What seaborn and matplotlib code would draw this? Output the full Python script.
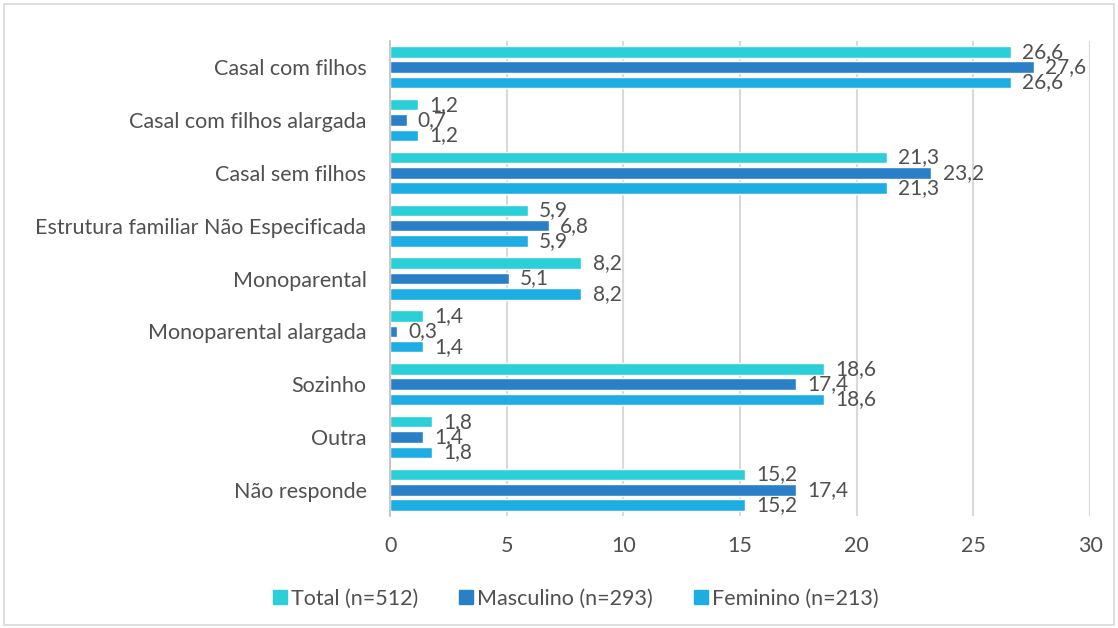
import numpy as np
import pandas as pd
import seaborn as sns
import matplotlib.pyplot as plt
from matplotlib.patches import Rectangle

categorias = ["Casal com filhos", "Casal com filhos alargada", "Casal sem filhos",
              "Estrutura familiar Não Especificada", "Monoparental",
              "Monoparental alargada", "Sozinho", "Outra", "Não responde"]
total = [26.6, 1.2, 21.3, 5.9, 8.2, 1.4, 18.6, 1.8, 15.2]
masculino = [27.6, 0.7, 23.2, 6.8, 5.1, 0.3, 17.4, 1.4, 17.4]
feminino = [26.6, 1.2, 21.3, 5.9, 8.2, 1.4, 18.6, 1.8, 15.2]
series = ["Total (n=512)", "Masculino (n=293)", "Feminino (n=213)"]
cores = ["#2ACFD7", "#2A80C6", "#1EADE3"]

df = pd.DataFrame({
    "cat": categorias * 3,
    "valor": total + masculino + feminino,
    "serie": np.repeat(series, len(categorias)),
})

sns.set_style("white")
plt.rcParams["font.family"] = ["Lato", "DejaVu Sans"]
cinza = "#505050"

fig = plt.figure(figsize=(11.18, 6.28), dpi=100)
ax = fig.add_axes([0.349, 0.178, 0.626, 0.757])

sns.barplot(data=df, y="cat", x="valor", hue="serie", hue_order=series,
            palette=cores, orient="h", width=0.87, gap=0.25, saturation=1,
            legend=False, ax=ax)

# rótulos de dados à direita das barras (sobrepõem-se como no original)
for cont in ax.containers:
    ax.bar_label(cont, labels=[f"{v:.1f}".replace(".", ",") for v in cont.datavalues],
                 padding=8, fontsize=15, color=cinza)

ax.set_xlim(0, 30)
ax.set_xticks(range(0, 31, 5))
ax.set_ylim(8.5, -0.5)
ax.grid(axis="x", color="#D9D9D9", linewidth=1.5)
ax.set_axisbelow(True)
for s in ["top", "right", "bottom"]:
    ax.spines[s].set_visible(False)
ax.spines["left"].set_color("#BFBFBF")
ax.spines["left"].set_linewidth(1.2)
ax.tick_params(axis="both", length=0, labelsize=15.5, colors=cinza)
ax.tick_params(axis="x", pad=14)
ax.tick_params(axis="y", pad=17)
ax.set_xlabel("")
ax.set_ylabel("")

handles = [Rectangle((0, 0), 1, 1, color=c) for c in cores]
fig.legend(handles, series, loc="lower center", bbox_to_anchor=(0.515, 0.0),
           ncol=3, frameon=False, fontsize=15.5, handlelength=0.65, handleheight=0.65,
           handletextpad=0.2, columnspacing=1.9, labelcolor=cinza)

fig.add_artist(Rectangle((0.004, 0.004), 0.992, 0.99, transform=fig.transFigure,
                         fill=False, edgecolor="#D9D9D9", linewidth=1.2))

fig.savefig("out.png", dpi=100)
